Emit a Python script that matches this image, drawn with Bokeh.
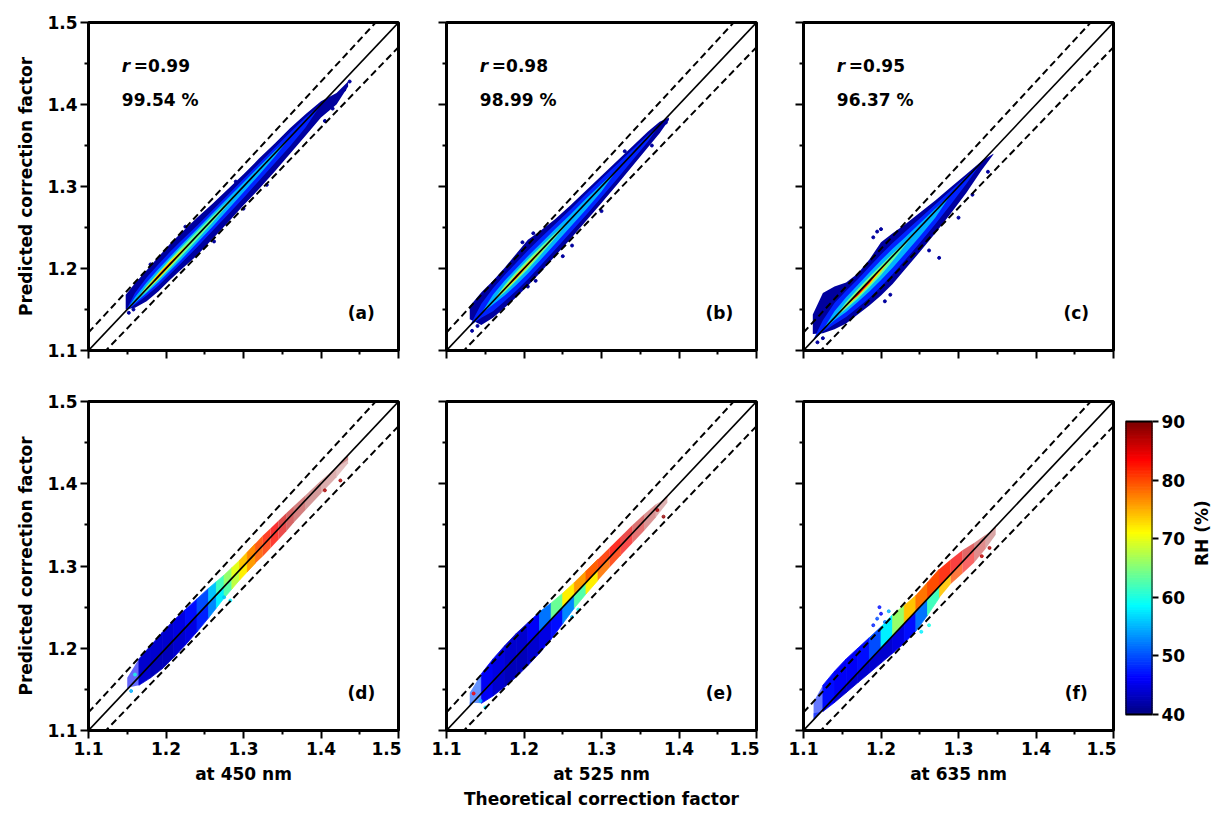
import math
import numpy as np
from bokeh.plotting import figure
from bokeh.layouts import row, column
from bokeh.models import Range1d, FixedTicker, ColumnDataSource, Title
from bokeh.core.properties import value
from bokeh.transform import linear_cmap
from bokeh.embed import file_html
from bokeh.resources import INLINE

FONT = "DejaVu Sans"

# ---------------- data ----------------
TICKS = [1.1, 1.2, 1.3, 1.4, 1.5]
MINOR_TICKS = [1.15, 1.25, 1.35, 1.45]
RH_TICKS = [40, 50, 60, 70, 80, 90]
RH_LOW, RH_HIGH = 40, 90

STATS_R = ["0.99", "0.98", "0.95"]
STATS_PCT = ["99.54 %", "98.99 %", "96.37 %"]
TOP_TAGS = ["(a)", "(b)", "(c)"]
BOT_TAGS = ["(d)", "(e)", "(f)"]
XLABELS = ["at 450 nm", "at 525 nm", "at 635 nm"]
YLABEL = "Predicted correction factor"
XTITLE = "Theoretical correction factor"
CB_LABEL = "RH (%)"

# Top row: density envelopes along the cloud, offsets above (UP) / below (DN)
# the 1:1 line in thousandths, for density levels from sparse to dense.
A_X = [1.148, 1.160, 1.175, 1.190, 1.205, 1.220, 1.240, 1.260, 1.280, 1.300, 1.320, 1.340, 1.360, 1.380, 1.400, 1.420, 1.435]
A_UP = [[20, 22, 23, 24, 25, 24, 22, 19, 17, 15, 14, 12, 11, 8, 4, -6, -7],
        [0, 10, 14, 15, 15, 14, 12, 11, 10, 9, 8, 7, 6, 4, 0, 0, 0],
        [0, 5, 8, 9, 9, 9, 8, 7, 6, 5, 4, 3, 0, 0, 0, 0, 0],
        [0, 0, 4, 5, 6, 6, 5, 4, 2, 0, 0, 0, 0, 0, 0, 0, 0],
        [0, 0, 2, 4, 4, 3, 0, 0, 0, 0, 0, 0, 0, 0, 0, 0, 0],
        [0, 0, 0, 2, 2, 0, 0, 0, 0, 0, 0, 0, 0, 0, 0, 0, 0]]
A_DN = [[-2, 8, 15, 18, 19, 21, 24, 24, 24, 23, 23, 22, 20, 18, 16, 20, 13],
        [0, 4, 8, 11, 12, 13, 14, 14, 14, 14, 13, 12, 11, 8, 0, 0, 0],
        [0, 2, 5, 7, 8, 9, 9, 9, 8, 7, 6, 4, 0, 0, 0, 0, 0],
        [0, 0, 3, 4, 5, 5, 5, 4, 2, 0, 0, 0, 0, 0, 0, 0, 0],
        [0, 0, 1, 3, 3, 2, 0, 0, 0, 0, 0, 0, 0, 0, 0, 0, 0],
        [0, 0, 0, 1, 1, 0, 0, 0, 0, 0, 0, 0, 0, 0, 0, 0, 0]]
A_OUT_X = [1.152, 1.158, 1.262, 1.300, 1.330, 1.405, 1.415, 1.430, 1.437, 1.180, 1.225, 1.290]
A_OUT_Y = [1.146, 1.150, 1.233, 1.273, 1.302, 1.380, 1.395, 1.418, 1.428, 1.205, 1.251, 1.306]

B_X = [1.130, 1.145, 1.160, 1.175, 1.190, 1.205, 1.220, 1.240, 1.260, 1.280, 1.300, 1.320, 1.340, 1.360, 1.375, 1.387]
B_UP = [[24, 26, 25, 26, 28, 30, 25, 20, 17, 15, 13, 11, 9, 7, 4, -3],
        [0, 12, 16, 17, 17, 17, 16, 14, 12, 11, 9, 7, 5, 3, 0, 0],
        [0, 0, 8, 10, 10, 10, 9, 8, 6, 5, 3, 0, 0, 0, 0, 0],
        [0, 0, 0, 5, 6, 6, 5, 3, 0, 0, 0, 0, 0, 0, 0, 0],
        [0, 0, 0, 2, 3, 3, 2, 0, 0, 0, 0, 0, 0, 0, 0, 0],
        [0, 0, 0, 0, 2, 1, 0, 0, 0, 0, 0, 0, 0, 0, 0, 0]]
B_DN = [[-8, 14, 20, 23, 25, 26, 26, 25, 24, 22, 20, 18, 15, 12, 10, 6],
        [0, 5, 12, 15, 17, 18, 18, 17, 16, 15, 13, 11, 8, 5, 0, 0],
        [0, 0, 4, 8, 10, 11, 11, 10, 9, 8, 6, 0, 0, 0, 0, 0],
        [0, 0, 0, 4, 5, 6, 5, 3, 0, 0, 0, 0, 0, 0, 0, 0],
        [0, 0, 0, 2, 3, 3, 2, 0, 0, 0, 0, 0, 0, 0, 0, 0],
        [0, 0, 0, 0, 2, 1, 0, 0, 0, 0, 0, 0, 0, 0, 0, 0]]
B_OUT_X = [1.133, 1.140, 1.205, 1.215, 1.250, 1.262, 1.300, 1.365, 1.383, 1.198, 1.212, 1.330]
B_OUT_Y = [1.124, 1.130, 1.178, 1.185, 1.215, 1.228, 1.270, 1.350, 1.378, 1.232, 1.243, 1.343]

C_X = [1.112, 1.125, 1.140, 1.155, 1.170, 1.185, 1.200, 1.215, 1.230, 1.250, 1.270, 1.290, 1.310, 1.330, 1.345]
C_UP = [[32, 45, 38, 28, 24, 26, 32, 28, 23, 18, 13, 9, 5, 1, -5],
        [0, 12, 18, 18, 17, 17, 17, 16, 14, 11, 8, 5, 2, 0, 0],
        [0, 0, 8, 10, 10, 10, 10, 9, 7, 5, 3, 0, 0, 0, 0],
        [0, 0, 0, 4, 5, 5, 4, 3, 1, 0, 0, 0, 0, 0, 0],
        [0, 0, 0, 1, 2, 2, 1, 0, 0, 0, 0, 0, 0, 0, 0],
        [0, 0, 0, 0, 1, 1, 0, 0, 0, 0, 0, 0, 0, 0, 0]]
C_DN = [[-8, 4, 14, 22, 26, 30, 33, 34, 32, 30, 27, 23, 18, 10, 6],
        [0, 2, 8, 14, 18, 21, 22, 22, 21, 19, 16, 12, 7, 0, 0],
        [0, 0, 3, 8, 11, 13, 14, 14, 13, 11, 8, 0, 0, 0, 0],
        [0, 0, 0, 4, 7, 8, 8, 6, 3, 0, 0, 0, 0, 0, 0],
        [0, 0, 0, 2, 4, 5, 4, 0, 0, 0, 0, 0, 0, 0, 0],
        [0, 0, 0, 0, 3, 3, 0, 0, 0, 0, 0, 0, 0, 0, 0]]
C_OUT_X = [1.118, 1.125, 1.195, 1.205, 1.212, 1.262, 1.275, 1.300, 1.318, 1.338, 1.190, 1.200]
C_OUT_Y = [1.110, 1.115, 1.245, 1.160, 1.168, 1.222, 1.213, 1.262, 1.290, 1.318, 1.238, 1.248]

# Bottom row: the same clouds coloured by RH, per segment along the cloud
D_X = [1.150, 1.165, 1.180, 1.195, 1.210, 1.225, 1.240, 1.255, 1.265, 1.275, 1.285, 1.295, 1.305, 1.315, 1.325, 1.335, 1.345, 1.355, 1.365, 1.380, 1.400, 1.420, 1.435]
D_UP = [14, 22, 23, 24, 24, 22, 20, 18, 16, 14, 13, 12, 12, 12, 12, 11, 10, 9, 8, 6, 4, 0, -6]
D_DN = [-2, 10, 16, 20, 21, 21, 20, 18, 16, 14, 13, 12, 12, 12, 13, 13, 13, 13, 12, 12, 12, 12, 10]
D_RH_UP = [46, 44, 44, 44, 45, 47, 50, 56, 62, 66, 70, 74, 77, 80, 82, 84, 86, 87, 88, 89, 89, 89]
D_RH_DN = [47, 44, 43, 43, 44, 45, 48, 53, 58, 63, 68, 72, 76, 79, 81, 83, 85, 87, 88, 89, 89, 89]
D_DENS = [0.6, 1, 1, 1, 1, 1, 1, 1, 1, 1, 1, 1, 1, 0.9, 0.85, 0.8, 0.7, 0.6, 0.5, 0.4, 0.32, 0.25]
D_OUT_X = [1.155, 1.160, 1.283, 1.275, 1.405, 1.425]
D_OUT_Y = [1.148, 1.168, 1.258, 1.262, 1.392, 1.404]
D_OUT_RH = [55, 60, 58, 56, 88, 88]

E_X = [1.130, 1.145, 1.160, 1.175, 1.190, 1.205, 1.220, 1.235, 1.250, 1.265, 1.280, 1.295, 1.310, 1.325, 1.340, 1.355, 1.370, 1.385]
E_UP = [16, 24, 27, 28, 28, 26, 24, 20, 17, 15, 14, 13, 12, 11, 10, 8, 5, -2]
E_DN = [-4, 12, 18, 22, 25, 26, 26, 24, 20, 16, 14, 13, 12, 12, 12, 12, 11, 8]
E_RH_UP = [50, 46, 45, 44, 44, 46, 52, 64, 72, 76, 79, 81, 83, 85, 87, 88, 89]
E_RH_DN = [50, 46, 44, 43, 43, 44, 45, 47, 53, 63, 72, 78, 81, 84, 86, 88, 89]
E_DENS = [0.6, 1, 1, 1, 1, 1, 1, 1, 1, 1, 1, 0.9, 0.85, 0.7, 0.55, 0.42, 0.3]
E_OUT_X = [1.135, 1.144, 1.150, 1.270, 1.262, 1.372, 1.380]
E_OUT_Y = [1.145, 1.136, 1.128, 1.247, 1.238, 1.368, 1.360]
E_OUT_RH = [84, 55, 58, 60, 56, 88, 89]

F_X = [1.113, 1.125, 1.140, 1.155, 1.170, 1.185, 1.200, 1.215, 1.230, 1.245, 1.260, 1.275, 1.290, 1.305, 1.320, 1.335, 1.348]
F_UP = [22, 30, 32, 32, 30, 28, 26, 26, 22, 19, 20, 21, 18, 14, 8, 3, -2]
F_DN = [-8, 2, 6, 9, 12, 15, 18, 21, 24, 24, 20, 14, 12, 14, 16, 14, 10]
F_RH_UP = [48, 47, 46, 46, 47, 50, 58, 66, 74, 78, 80, 82, 84, 86, 88, 89]
F_RH_DN = [48, 46, 44, 44, 44, 44, 44, 45, 47, 52, 62, 74, 80, 84, 87, 89]
F_DENS = [0.6, 1, 1, 1, 1, 1, 1, 1, 1, 1, 1, 0.9, 0.75, 0.6, 0.45, 0.35]
F_OUT_X = [1.190, 1.195, 1.200, 1.205, 1.210, 1.198, 1.252, 1.262, 1.340, 1.330]
F_OUT_Y = [1.228, 1.236, 1.242, 1.232, 1.245, 1.250, 1.220, 1.228, 1.322, 1.312]
F_OUT_RH = [48, 50, 46, 52, 55, 47, 58, 60, 88, 87]

REF_SLOPES = [1.02, 0.98]   # +-2 % envelope lines


# ---------------- palette (matplotlib "jet") ----------------
def _jet(t):
    r = min(max(1.5 - abs(4 * t - 3), 0), 1)
    g = min(max(1.5 - abs(4 * t - 2), 0), 1)
    b = min(max(1.5 - abs(4 * t - 1), 0), 1)
    return "#%02x%02x%02x" % (int(r * 255), int(g * 255), int(b * 255))


JET = [_jet(i / 255) for i in range(256)]
DENSITY_COLORS = [_jet(0.03), _jet(0.16), _jet(0.30), _jet(0.47), _jet(0.66), _jet(0.88)]


def style_axis(ax, show_labels, ticks, minor):
    ax.ticker = FixedTicker(ticks=ticks, minor_ticks=minor)
    ax.axis_line_width = 3
    ax.axis_line_color = "black"
    ax.major_tick_in = 0
    ax.major_tick_out = 8
    ax.major_tick_line_width = 2
    ax.major_tick_line_color = "black"
    ax.minor_tick_in = 0
    ax.minor_tick_out = 4
    ax.minor_tick_line_width = 2
    ax.minor_tick_line_color = "black"
    ax.major_label_standoff = 3
    ax.major_label_text_font = FONT
    ax.major_label_text_font_style = "bold"
    ax.major_label_text_font_size = "17px"
    ax.major_label_text_color = "black" if show_labels else None
    ax.axis_label_text_font = FONT
    ax.axis_label_text_font_style = "bold"
    ax.axis_label_text_font_size = "17px"
    ax.axis_label_text_color = "black"


def base_panel(left, top, bottom, frame_h, show_x, show_y, xlabel=None, ylabel=None):
    p = figure(frame_width=310, frame_height=frame_h,
               x_range=Range1d(1.1, 1.5), y_range=Range1d(1.1, 1.5),
               output_backend="svg", toolbar_location=None, title_location=None,
               min_border_left=left, min_border_right=3,
               min_border_top=top, min_border_bottom=bottom)
    p.xgrid.visible = False
    p.ygrid.visible = False
    p.outline_line_color = "black"
    p.outline_line_width = 3
    p.outline_line_alpha = 1
    style_axis(p.xaxis[0], show_x, TICKS, MINOR_TICKS)
    style_axis(p.yaxis[0], show_y, TICKS, MINOR_TICKS)
    if xlabel:
        p.xaxis.axis_label = xlabel
        p.xaxis.axis_label_standoff = 6
    if ylabel:
        p.yaxis.axis_label = ylabel
        p.yaxis.axis_label_standoff = 8
    return p


def ref_lines(p):
    xs = [TICKS[0], TICKS[-1]]
    p.line(xs, xs, line_color="black", line_width=1.6)
    for s in REF_SLOPES:
        p.line(xs, [v * s for v in xs], line_color="black", line_width=2, line_dash="7 4")


def tag(p, text):
    p.text(x=[1.452], y=[1.146], text=[text], text_font=value(FONT), text_font_style="bold",
           text_font_size="17px", text_align="center", text_baseline="middle", text_color="black")


def density_cloud(p, xs, ups, dns, out_x, out_y):
    for up, dn, col in zip(ups, dns, DENSITY_COLORS):
        y1 = [x - d / 1000 for x, d in zip(xs, dn)]
        y2 = [x + u / 1000 for x, u in zip(xs, up)]
        p.varea(x=xs, y1=y1, y2=y2, fill_color=col, fill_alpha=1)
    p.scatter(out_x, out_y, size=3, color=DENSITY_COLORS[0])


def rh_cloud(p, xs, up, dn, rh_up, rh_dn, dens, out_x, out_y, out_rh):
    pxs, pys, rh, al, la = [], [], [], [], []
    for i in range(len(xs) - 1):
        x0, x1 = xs[i], xs[i + 1]
        pxs.append([x0, x1, x1, x0])
        pys.append([x0 - dn[i] / 1000, x1 - dn[i + 1] / 1000, x1, x0])
        rh.append(rh_dn[i])
        al.append(dens[i])
        la.append(1 if dens[i] >= 1 else 0)
    for i in range(len(xs) - 1):
        x0, x1 = xs[i], xs[i + 1]
        pxs.append([x0, x1, x1, x0])
        pys.append([x0, x1, x1 + up[i + 1] / 1000, x0 + up[i] / 1000])
        rh.append(rh_up[i])
        al.append(dens[i])
        la.append(1 if dens[i] >= 1 else 0)
    src = ColumnDataSource(dict(xs=pxs, ys=pys, rh=rh, alpha=al, lalpha=la))
    cmap = linear_cmap("rh", JET, RH_LOW, RH_HIGH)
    p.patches("xs", "ys", source=src, fill_color=cmap, fill_alpha="alpha",
              line_color=cmap, line_alpha="lalpha", line_width=0.8)
    osrc = ColumnDataSource(dict(x=out_x, y=out_y, rh=out_rh))
    p.scatter("x", "y", source=osrc, size=3, color=linear_cmap("rh", JET, RH_LOW, RH_HIGH), alpha=0.8)


# ---------------- top row ----------------
top_defs = [(A_X, A_UP, A_DN, A_OUT_X, A_OUT_Y), (B_X, B_UP, B_DN, B_OUT_X, B_OUT_Y),
            (C_X, C_UP, C_DN, C_OUT_X, C_OUT_Y)]
left_borders = [88, 45, 44]
top_panels = []
for i, (xs, ups, dns, ox, oy) in enumerate(top_defs):
    p = base_panel(left_borders[i], 22, 40, 328, False, i == 0, ylabel=YLABEL if i == 0 else None)
    density_cloud(p, xs, ups, dns, ox, oy)
    ref_lines(p)
    p.text(x=[1.143], y=[1.447], text=["r"], text_font=value(FONT), text_font_style="bold italic",
           text_font_size="17px", text_baseline="middle", text_color="black")
    p.text(x=[1.143], y=[1.447], text=["=" + STATS_R[i]], x_offset=12, text_font=value(FONT),
           text_font_style="bold", text_font_size="17px", text_baseline="middle", text_color="black")
    p.text(x=[1.143], y=[1.406], text=[STATS_PCT[i]], text_font=value(FONT), text_font_style="bold",
           text_font_size="17px", text_baseline="middle", text_color="black")
    tag(p, TOP_TAGS[i])
    top_panels.append(p)

# ---------------- bottom row ----------------
bot_defs = [(D_X, D_UP, D_DN, D_RH_UP, D_RH_DN, D_DENS, D_OUT_X, D_OUT_Y, D_OUT_RH),
            (E_X, E_UP, E_DN, E_RH_UP, E_RH_DN, E_DENS, E_OUT_X, E_OUT_Y, E_OUT_RH),
            (F_X, F_UP, F_DN, F_RH_UP, F_RH_DN, F_DENS, F_OUT_X, F_OUT_Y, F_OUT_RH)]
bot_panels = []
for i, (xs, up, dn, ru, rd, de, ox, oy, orh) in enumerate(bot_defs):
    p = base_panel(left_borders[i], 11, 74, 329, True, i == 0, xlabel=XLABELS[i],
                   ylabel=YLABEL if i == 0 else None)
    rh_cloud(p, xs, up, dn, ru, rd, de, ox, oy, orh)
    ref_lines(p)
    tag(p, BOT_TAGS[i])
    bot_panels.append(p)

bot_panels[1].add_layout(Title(text=XTITLE, align="center", text_font=FONT, text_font_style="bold",
                               text_font_size="17px", text_color="black", standoff=0), "below")

# ---------------- colour bar ----------------
# frame spans the same height as the panels; the bar itself covers 40..90
CB_PAD_LOW, CB_PAD_HIGH = 2.73, 3.41
cb = figure(frame_width=27, frame_height=329, x_range=Range1d(0, 1),
            y_range=Range1d(RH_LOW - CB_PAD_LOW, RH_HIGH + CB_PAD_HIGH),
            y_axis_location="right", output_backend="svg", toolbar_location=None, title_location=None,
            min_border_left=9, min_border_right=62, min_border_top=11, min_border_bottom=74)
cb.xgrid.visible = False
cb.ygrid.visible = False
cb.xaxis.visible = False
cb.outline_line_color = None
lev = np.linspace(RH_LOW, RH_HIGH, 129)
cb_src = ColumnDataSource(dict(b=lev[:-1], t=lev[1:], m=(lev[:-1] + lev[1:]) / 2))
cb_map = linear_cmap("m", JET, RH_LOW, RH_HIGH)
cb.quad(left=0, right=1, bottom="b", top="t", source=cb_src,
        fill_color=cb_map, line_color=cb_map, line_width=1)
cb.quad(left=[0], right=[1], bottom=[RH_LOW], top=[RH_HIGH], fill_color=None,
        line_color="black", line_width=2)
ax = cb.yaxis[0]
style_axis(ax, True, RH_TICKS, [])
ax.axis_line_color = None
ax.major_tick_out = 6
ax.minor_tick_line_color = None
ax.axis_label = CB_LABEL
ax.axis_label_standoff = 14
try:
    ax.axis_label_orientation = math.pi / 2
except Exception:
    pass

layout = column(row(*top_panels), row(*bot_panels, cb))
open("out.html", "w").write(file_html(layout, INLINE))
